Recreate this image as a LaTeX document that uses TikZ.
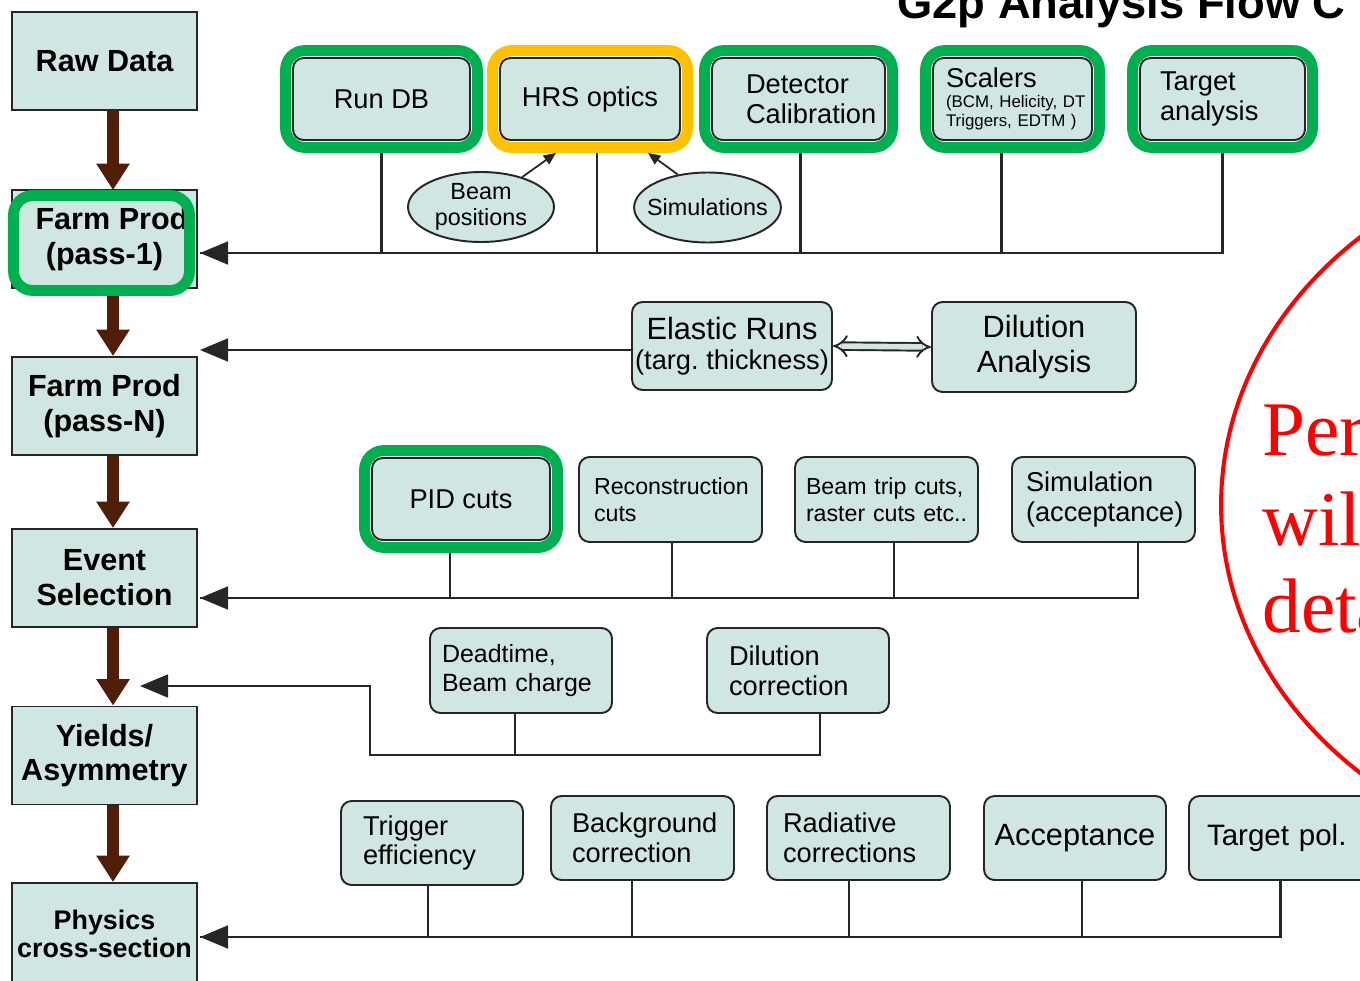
\documentclass[tikz,border=0pt]{standalone}
\usepackage{fontspec}
\setmainfont{Liberation Sans}
\newfontfamily\redserif{Liberation Serif}
\usetikzlibrary{arrows.meta,shapes.geometric,fit,calc,positioning}
\definecolor{boxfill}{RGB}{207,230,226}
\definecolor{boxline}{RGB}{38,38,38}
\definecolor{hlgreen}{RGB}{0,176,80}
\definecolor{hlorange}{RGB}{255,192,0}
\definecolor{flowbrown}{RGB}{80,30,8}
\hyphenpenalty=10000
\begin{document}
\begin{tikzpicture}[x=0.02cm,y=-0.02cm,
    stage/.style={draw=boxline,line width=1.1pt,fill=boxfill,minimum width=3.7cm,minimum height=1.96cm,
        inner sep=0pt,align=center,font=\bfseries\fontsize{17.4}{19.8}\selectfont},
    box/.style={draw=boxline,line width=1.1pt,fill=boxfill,rounded corners=6pt,inner sep=0pt,
        align=center,font=\fontsize{15.5}{17}\selectfont},
    lbox/.style={box,align=left,inner ysep=0pt},
    oval/.style={draw=boxline,line width=1.1pt,fill=boxfill,ellipse,inner sep=0pt,minimum width=2.92cm,
        minimum height=1.4cm,align=center,font=\fontsize{13.3}{14.7}\selectfont},
    greenhl/.style={draw=hlgreen,line width=6.2pt,rounded corners=11pt,inner sep=0.13cm},
    orangehl/.style={greenhl,draw=hlorange},
    flow/.style={draw=flowbrown,line width=6.8pt,-{Triangle[width=18pt,length=15pt]}},
    feed/.style={draw=boxline,line width=1.4pt,-{Triangle[width=13pt,length=16pt]}},
    link/.style={draw=boxline,line width=1.4pt},
    hint/.style={draw=boxline,line width=1pt,-{Triangle[width=6pt,length=7pt]}},
    note/.style={anchor=base west,inner sep=0pt,text=red,font=\redserif\fontsize{44}{50}\selectfont}]
    \useasboundingbox (0,0) rectangle (1360,981);
    \clip (0,0) rectangle (1360,981);
    \node[anchor=base west,inner sep=0pt,font=\bfseries\fontsize{25.8}{30}\selectfont] (title) at (897,18) {G2p Analysis Flow C};
    % Main chain on the left
    \node[stage] (raw) at (104.5,61) {Raw Data};
    \node[stage] (pass1) at (104.5,239) {\hspace*{0.3cm}Farm Prod\\(pass-1)};
    \node[stage] (passN) at (104.5,406) {Farm Prod\\(pass-N)};
    \node[stage] (evsel) at (104.5,578) {Event\\Selection};
    \node[stage] (yields) at (104.5,755.5) {Yields/\\Asymmetry};
    \node[stage,minimum height=2.02cm,font=\bfseries\fontsize{15.3}{16}\selectfont] (phys) at (104.5,933.5) {Physics\\cross-section};
    % Inputs to pass-1
    \node[box,minimum width=3.54cm,minimum height=1.64cm] (rundb) at (381.5,99) {Run DB};
    \node[box,minimum width=3.6cm,minimum height=1.64cm] (hrs) at (590,99) {HRS optics};
    \node[lbox,minimum height=1.64cm,text width=2.1cm,inner xsep=0.68cm] (detector) at (798.5,99) {Detector\\Calibration};
    \node[lbox,minimum height=1.64cm,text width=2.66cm,inner xsep=0.26cm,font=\fontsize{9.6}{10.8}\selectfont] (scalers) at (1012.5,99)
        {{\fontsize{15.5}{17}\selectfont Scalers}\\[1pt](BCM,~Helicity,~DT\\Triggers,~EDTM~)};
    \node[lbox,minimum height=1.64cm,text width=2.5cm,inner xsep=0.4cm] (target) at (1222.5,99) {Target\\analysis};
    \node[oval] (beampos) at (481,207) {Beam\\positions};
    \node[oval,inner xsep=-0.17cm] (simul) at (707.5,207.5) {Simulations};
    % Inputs to pass-N
    \node[box,minimum width=4cm,minimum height=1.76cm,font=\fontsize{17.5}{17}\selectfont] (elastic) at (732,346)
        {Elastic Runs\\{\fontsize{15.5}{17}\selectfont(targ.~thickness)}};
    \node[box,minimum width=4.08cm,minimum height=1.8cm,font=\fontsize{17.5}{19.8}\selectfont] (dilution) at (1034,347) {Dilution\\Analysis};
    % Event selection cuts
    \node[box,minimum width=3.56cm,minimum height=1.64cm] (pid) at (461,499) {PID cuts};
    \node[lbox,minimum height=1.7cm,text width=3.06cm,inner xsep=0.3cm,font=\fontsize{13.2}{15.3}\selectfont] (recon) at (670.5,499.5) {Reconstruction\\cuts};
    \node[lbox,minimum height=1.7cm,text width=3.22cm,inner xsep=0.22cm,font=\fontsize{13.2}{15.3}\selectfont] (beamtrip) at (886.5,499.5) {Beam~trip~cuts,\\raster~cuts~etc..};
    \node[lbox,minimum height=1.7cm,text width=3.1cm,inner xsep=0.28cm] (simacc) at (1103.5,499.5) {Simulation\\(acceptance)};
    % Yield corrections
    \node[lbox,minimum height=1.7cm,text width=3.16cm,inner xsep=0.24cm,font=\fontsize{14.2}{17}\selectfont] (deadtime) at (521,670.5) {Deadtime,\\Beam~charge};
    \node[lbox,minimum height=1.7cm,text width=2.76cm,inner xsep=0.44cm] (dilcorr) at (798,670.5) {Dilution\\correction};
    % Cross-section inputs
    \node[lbox,minimum height=1.68cm,text width=2.76cm,inner xsep=0.44cm] (trigger) at (432,843) {Trigger\\efficiency};
    \node[lbox,minimum height=1.68cm,text width=2.82cm,inner xsep=0.42cm] (bkg) at (642.5,838) {Background\\correction};
    \node[lbox,minimum height=1.68cm,text width=3.02cm,inner xsep=0.32cm] (radcorr) at (858.5,838) {Radiative\\corrections};
    \node[box,minimum width=3.64cm,minimum height=1.68cm,font=\fontsize{17.5}{19.8}\selectfont] (accept) at (1075,838) {Acceptance};
    \node[lbox,minimum height=1.68cm,text width=2.94cm,inner xsep=0.36cm,font=\fontsize{16.8}{19}\selectfont] (tgtpol) at (1280.5,838) {Target~pol.};
    % Highlight frames
    \node[greenhl,minimum width=3.52cm,minimum height=1.9cm,inner sep=0pt] (pass1hl) at (101.5,243) {};
    \node[greenhl,fit=(rundb)] (rundbhl) {};
    \node[orangehl,fit=(hrs)] (hrshl) {};
    \node[greenhl,fit=(detector)] (dethl) {};
    \node[greenhl,fit=(scalers)] (scalershl) {};
    \node[greenhl,fit=(target)] (targethl) {};
    \node[greenhl,fit=(pid)] (pidhl) {};
    % Brown flow arrows
    \draw[flow] ($(raw.south)+(8.5,0)$) -- ($(pass1hl.north)+(11.5,0)$);
    \draw[flow] ($(pass1hl.south)+(11.5,0)$) -- ($(passN.north)+(8.5,0)$);
    \draw[flow] ($(passN.south)+(8.5,0)$) -- ($(evsel.north)+(8.5,0)$);
    \draw[flow] ($(evsel.south)+(8.5,0)$) -- ($(yields.north)+(8.5,0)$);
    \draw[flow] ($(yields.south)+(8.5,0)$) -- ($(phys.north)+(8.5,0)$);
    % Feed lines
    \coordinate (in1) at (200,253);
    \draw[feed] (targethl.south) |- (in1);
    \draw[link] (rundbhl.south) |- (in1);
    \draw[link] ($(hrshl.south)+(7,0)$) |- (in1);
    \draw[link] ($(dethl.south)+(2,0)$) |- (in1);
    \draw[link] ($(scalershl.south)+(-11,0)$) |- (in1);
    \draw[hint] (beampos.36) -- ($(hrshl.south)+(-34,0)$);
    \draw[hint] (simul.132) -- ($(hrshl.south)+(58,0)$);
    \coordinate (in2) at (200,350);
    \draw[feed] (elastic.west |- in2) -- (in2);
    \draw[line width=1.1pt,draw=boxline,double=boxfill,double distance=3.2pt,{Implies}-{Implies}] (elastic.east) -- (dilution.west);
    \coordinate (in3) at (200,598);
    \draw[feed] ($(simacc.south)+(34.5,0)$) |- (in3);
    \draw[link] ($(pidhl.south)+(-11,0)$) |- (in3);
    \draw[link] ($(recon.south)+(1.5,0)$) |- (in3);
    \draw[link] ($(beamtrip.south)+(7.5,0)$) |- (in3);
    \coordinate (in4) at (140,686);
    \coordinate (bend4) at (370,755);
    \draw[feed] ($(dilcorr.south)+(22,0)$) |- (bend4) |- (in4);
    \draw[link] ($(deadtime.south)+(-6,0)$) |- (bend4);
    \coordinate (in5) at (200,937);
    \draw[feed] (tgtpol.south) |- (in5);
    \draw[link] ($(trigger.south)+(-4,0)$) |- (in5);
    \draw[link] ($(bkg.south)+(-10.5,0)$) |- (in5);
    \draw[link] ($(radcorr.south)+(-9.5,0)$) |- (in5);
    \draw[link] ($(accept.south)+(7,0)$) |- (in5);
    % Red note
    \draw[red,line width=2.3pt] (1640,505) ellipse [x radius=8.38cm,y radius=7.2cm];
    \node[note] (per) at (1262,455) {Per};
    \node[note] (wil) at (1262,545) {wil};
    \node[note] (deta) at (1262,632) {deta};
\end{tikzpicture}
\end{document}
